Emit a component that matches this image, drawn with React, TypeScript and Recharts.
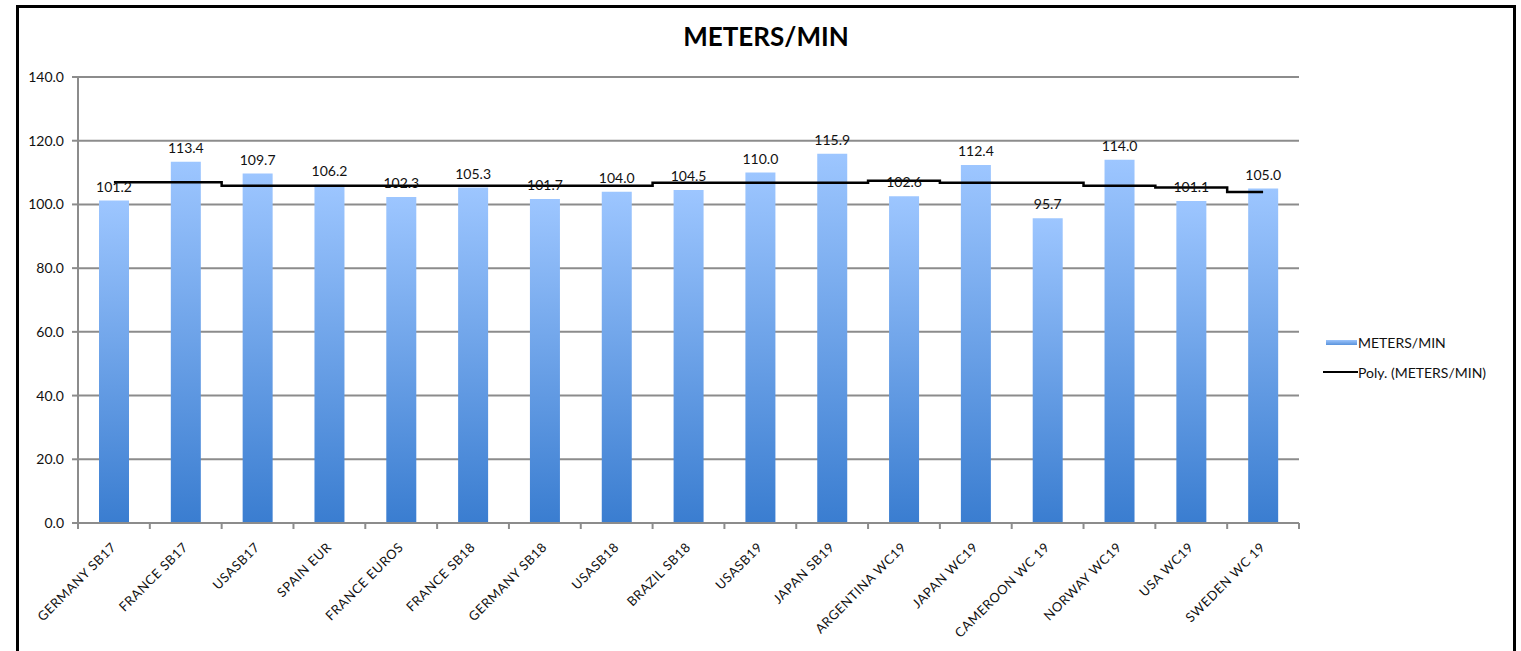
import React from 'react';
import { ComposedChart, Bar, Line, XAxis, YAxis, CartesianGrid, LabelList } from 'recharts';

const categories = [
  'GERMANY SB17', 'FRANCE SB17', 'USASB17', 'SPAIN EUR', 'FRANCE EUROS', 'FRANCE SB18',
  'GERMANY SB18', 'USASB18', 'BRAZIL SB18', 'USASB19', 'JAPAN SB19', 'ARGENTINA WC19',
  'JAPAN WC19', 'CAMEROON WC 19', 'NORWAY WC19', 'USA WC19', 'SWEDEN WC 19',
];
const metersPerMin = [101.2, 113.4, 109.7, 106.2, 102.3, 105.3, 101.7, 104.0, 104.5, 110.0, 115.9, 102.6, 112.4, 95.7, 114.0, 101.1, 105.0];
const polyTrend = [107.0, 107.0, 105.9, 105.9, 105.9, 105.9, 105.9, 105.9, 106.8, 106.8, 106.8, 107.4, 106.8, 106.8, 105.9, 105.3, 103.9];
const yTicks = [0, 20, 40, 60, 80, 100, 120, 140];
const legendLabels = ['METERS/MIN', 'Poly. (METERS/MIN)'];

const data = categories.map((name, i) => ({ name, value: metersPerMin[i], poly: polyTrend[i] }));

const FONT = 'Lato, "Liberation Sans", sans-serif';
const GRID = '#8c8c8c';
const PLOT_LEFT = 78;
const PLOT_RIGHT = 1299;
const BAND = (PLOT_RIGHT - PLOT_LEFT) / categories.length;

const XTick = (props: any) => {
  const { x, y, payload, index } = props;
  const lx = x + 3;
  const ly = y + 25;
  return (
    <g>
      <line x1={x - BAND / 2} y1={y} x2={x - BAND / 2} y2={y + 6} stroke={GRID} strokeWidth={2} />
      {index === categories.length - 1 && (
        <line x1={x + BAND / 2} y1={y} x2={x + BAND / 2} y2={y + 6} stroke={GRID} strokeWidth={2} />
      )}
      <text
        x={lx}
        y={ly}
        textAnchor="end"
        fontSize={13}
        letterSpacing={0.6}
        fill="#111"
        fontFamily={FONT}
        transform={`rotate(-45, ${lx}, ${ly})`}
      >
        {payload.value}
      </text>
    </g>
  );
};

const LegendBox = () => (
  <div style={{ position: 'absolute', left: 1323, top: 332, fontFamily: FONT, fontSize: 14, color: '#111' }}>
    <div style={{ display: 'flex', alignItems: 'center', height: 20 }}>
      <div style={{ width: 31, height: 5, background: 'linear-gradient(#9cc4fb, #5a93dc)', marginLeft: 3 }} />
      <span style={{ marginLeft: 1 }}>{legendLabels[0]}</span>
    </div>
    <div style={{ display: 'flex', alignItems: 'center', height: 20, marginTop: 10 }}>
      <div style={{ width: 35, height: 2, background: '#000' }} />
      <span>{legendLabels[1]}</span>
    </div>
  </div>
);

export default function App() {
  return (
    <div style={{ position: 'absolute', left: 0, top: 0, width: 1521, height: 651, overflow: 'hidden', background: '#fff' }}>
      <div
        style={{
          position: 'absolute', left: 16, top: 5, width: 1500, height: 720,
          border: '3px solid #000', boxSizing: 'border-box',
        }}
      />
      <div
        style={{
          position: 'absolute', left: 0, top: 20, width: 1532, textAlign: 'center',
          fontFamily: FONT, fontWeight: 700, fontSize: 26, color: '#000',
        }}
      >
        METERS/MIN
      </div>
      <div style={{ position: 'absolute', left: 0, top: 0 }}>
        <ComposedChart
          width={1521}
          height={651}
          data={data}
          margin={{ top: 77, right: 1521 - PLOT_RIGHT, left: 0, bottom: 28 }}
          barCategoryGap="58%"
        >
          <defs>
            <linearGradient id="barGrad" x1="0" y1="0" x2="0" y2="1">
              <stop offset="0%" stopColor="#9dc6ff" />
              <stop offset="100%" stopColor="#3a7dd0" />
            </linearGradient>
          </defs>
          <CartesianGrid vertical={false} stroke={GRID} strokeWidth={2} />
          <XAxis
            dataKey="name"
            interval={0}
            height={100}
            tickSize={0}
            tickMargin={0}
            tickLine={false}
            axisLine={{ stroke: GRID, strokeWidth: 2 }}
            tick={<XTick />}
          />
          <YAxis
            width={PLOT_LEFT}
            domain={[0, 140]}
            ticks={yTicks}
            tickFormatter={(v: number) => v.toFixed(1)}
            tickSize={6}
            tickMargin={8}
            axisLine={{ stroke: GRID, strokeWidth: 2 }}
            tickLine={{ stroke: GRID, strokeWidth: 2 }}
            tick={{ fontSize: 14, fill: '#111', fontFamily: FONT }}
          />
          <Bar dataKey="value" name={legendLabels[0]} fill="url(#barGrad)" barSize={30} isAnimationActive={false}>
            <LabelList
              dataKey="value"
              position="top"
              offset={9}
              formatter={(v: any) => Number(v).toFixed(1)}
              style={{ fontSize: 14, fill: '#111', fontFamily: FONT }}
            />
          </Bar>
          <Line
            dataKey="poly"
            name={legendLabels[1]}
            type="step"
            stroke="#000"
            strokeWidth={2.5}
            dot={false}
            activeDot={false}
            isAnimationActive={false}
          />
        </ComposedChart>
      </div>
      <LegendBox />
    </div>
  );
}
